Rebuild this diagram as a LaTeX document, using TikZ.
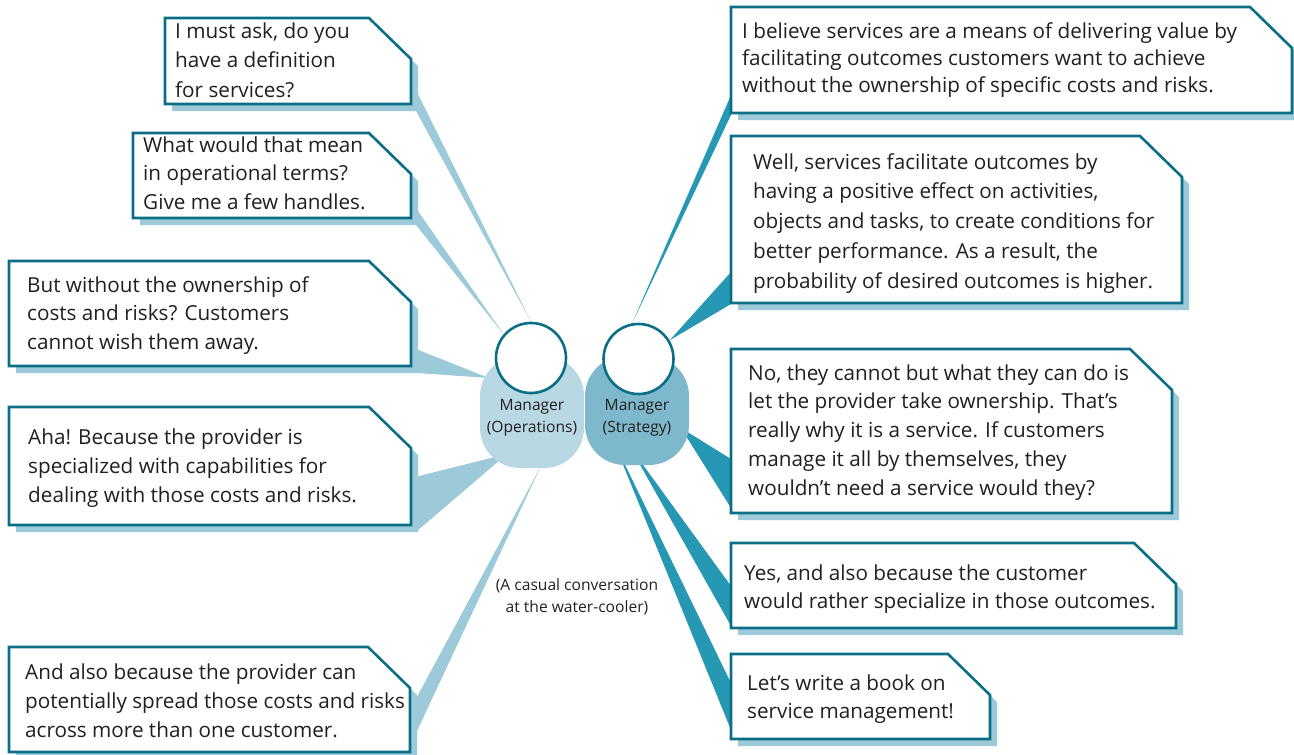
\documentclass[tikz,border=0pt]{standalone}
\usepackage{fontspec}
\setmainfont{Open Sans}
\usetikzlibrary{calc}
\pgfdeclarelayer{back}
\pgfsetlayers{back,main}
\definecolor{frame}{HTML}{0B6E87}
\definecolor{shade}{HTML}{9CCAD8}
\definecolor{wedgeL}{HTML}{9CCAD8}
\definecolor{wedgeR}{HTML}{2698B3}
\definecolor{opsfill}{HTML}{B8D8E4}
\definecolor{strfill}{HTML}{7EB8CC}
\definecolor{txt}{HTML}{231F20}
\newcommand\cutpath[1]{(#1.north west) -- ($(#1.north east)+(-42,0)$) -- ($(#1.north east)+(0,41)$) -- (#1.south east) -- (#1.south west) -- cycle}
\newcommand\shadowpath[1]{($(#1.north west)+(7,7)$) -- ($(#1.north east)+(-35,7)$) -- ($(#1.north east)+(7,48)$) -- ($(#1.south east)+(7,7)$) -- ($(#1.south west)+(7,7)$) -- cycle}
\newcommand\saylines[2]{\fontsize{20.7}{#1}\selectfont\begin{tabular}[t]{@{}l@{}}#2\end{tabular}}
\tikzset{
  boxarea/.style={draw=none, inner sep=0pt, outer sep=0pt, anchor=north west},
  boxframe/.style={draw=frame, fill=white, line width=2.6pt, line join=miter},
  boxshadow/.style={fill=shade},
  saytext/.style={anchor=base west, inner sep=0pt, text=txt},
  headshape/.style={circle, draw=frame, fill=white, line width=2.6pt, minimum size=70pt, inner sep=0pt},
  bodyshape/.style={rectangle, rounded corners=40pt, inner sep=0pt, minimum width=104pt},
  smalltext/.style={text=txt, align=center, inner sep=0pt, font=\fontsize{15.6}{21.5}\selectfont},
}
\begin{document}
\begin{tikzpicture}[x=1pt,y=-1pt]
\useasboundingbox (0,0) rectangle (1294,755);
% figures
\node[bodyshape, fill=opsfill, minimum height=112pt] (opsbody) at (532,412) {};
\node[bodyshape, fill=strfill, minimum height=109pt] (strbody) at (637,410.5) {};
\node[headshape] (opshead) at (531,358) {};
\node[headshape] (strhead) at (638.5,359) {};
\node[smalltext] (opslabel) at (532,418) {Manager\\(Operations)};
\node[smalltext] (strlabel) at (637,418) {Manager\\(Strategy)};
% box areas
\node[boxarea, minimum width=246pt, minimum height=86pt] (b1) at (165,18) {};
\node[boxarea, minimum width=278pt, minimum height=85pt] (b2) at (133,133) {};
\node[boxarea, minimum width=402pt, minimum height=105pt] (b3) at (9,261) {};
\node[boxarea, minimum width=402pt, minimum height=118pt] (b4) at (9,407) {};
\node[boxarea, minimum width=401pt, minimum height=105pt] (b5) at (9,647) {};
\node[boxarea, minimum width=561pt, minimum height=106pt] (b6) at (731,7) {};
\node[boxarea, minimum width=451pt, minimum height=167pt] (b7) at (731,136) {};
\node[boxarea, minimum width=441pt, minimum height=164pt] (b8) at (731,349) {};
\node[boxarea, minimum width=445pt, minimum height=85pt] (b9) at (731,543) {};
\node[boxarea, minimum width=259pt, minimum height=85pt] (b10) at (731,654) {};
\begin{pgfonlayer}{back}
\foreach \b in {b1,b2,b3,b4,b5,b6,b7,b8,b9,b10}{
  \fill[boxshadow] \shadowpath{\b};
}
% wedges, Operations side
\fill[wedgeL] (opshead.north) -- ($(b1.south east)+(0,-24)$) -- ($(b1.south east)+(5,7)$) -- cycle;
\fill[wedgeL] (opshead.139) -- ($(b2.south east)+(0,-17)$) -- ($(b2.south east)+(5,7)$) -- cycle;
\fill[wedgeL] ($(opsbody.center)+(-43,-34)$) -- ($(b3.south east)+(0,-19)$) -- ($(b3.south east)+(6,7)$) -- cycle;
\fill[wedgeL] ($(opsbody.center)+(-25,42)$) -- ($(b4.south east)+(0,-47)$) -- ($(b4.south east)+(6,6)$) -- cycle;
\fill[wedgeL] ($(opsbody.center)+(9,54)$) -- ($(b5.south east)+(0,-42)$) -- ($(b5.south east)+(7,-21)$) -- cycle;
% wedges, Strategy side
\fill[wedgeR] (strhead.100) -- ($(b6.south west)+(0,-18)$) -- ($(b6.south west)+(0,2)$) -- cycle;
\fill[wedgeR] (strhead.31) -- ($(b7.south west)+(0,-31)$) -- ($(b7.south west)+(0,1)$) -- cycle;
\fill[wedgeR] ($(strbody.center)+(44,17.5)$) -- ($(b8.south west)+(0,-54)$) -- ($(b8.south west)+(0,-5)$) -- cycle;
\fill[wedgeR] ($(strbody.center)+(-7,36.5)$) -- ($(b9.south west)+(0,-42)$) -- ($(b9.south west)+(0,-2)$) -- cycle;
\fill[wedgeR] ($(strbody.center)+(-24,29.5)$) -- ($(b10.south west)+(0,-56)$) -- ($(b10.south west)+(0,-9)$) -- cycle;
\end{pgfonlayer}
% frames
\foreach \b in {b1,b2,b3,b4,b5,b6,b7,b8,b9,b10}{
  \draw[boxframe] \cutpath{\b};
}
% texts
\node[saytext] (t1) at (175,38) {\saylines{29.5}{I must ask, do you\\have a definition\\for services?}};
\node[saytext] (t2) at (143,152) {\saylines{28.5}{What would that mean\\in operational terms?\\Give me a few handles.}};
\node[saytext] (t3) at (27,292) {\saylines{28.5}{But without the ownership of\\costs and risks? Customers\\cannot wish them away.}};
\node[saytext] (t4) at (28,444) {\saylines{29}{Aha! Because the provider is\\specialized with capabilities for\\dealing with those costs and risks.}};
\node[saytext] (t5) at (25,679) {\saylines{29}{And also because the provider can\\potentially spread those costs and risks\\across more than one customer.}};
\node[saytext] (t6) at (742,38) {\saylines{27}{I believe services are a means of delivering value by\\facilitating outcomes customers want to achieve\\without the ownership of specific costs and risks.}};
\node[saytext] (t7) at (753,169) {\saylines{29.8}{Well, services facilitate outcomes by\\having a positive effect on activities,\\objects and tasks, to create conditions for\\better performance. As a result, the\\probability of desired outcomes is higher.}};
\node[saytext] (t8) at (748,380) {\saylines{28.75}{No, they cannot but what they can do is\\let the provider take ownership. That’s\\really why it is a service. If customers\\manage it all by themselves, they\\wouldn’t need a service would they?}};
\node[saytext] (t9) at (744,580) {\saylines{28}{Yes, and also because the customer\\would rather specialize in those outcomes.}};
\node[saytext] (t10) at (747,690) {\saylines{28}{Let’s write a book on\\service management!}};
\node[smalltext] (caption) at (577,597) {(A casual conversation\\at the water-cooler)};
\end{tikzpicture}
\end{document}
